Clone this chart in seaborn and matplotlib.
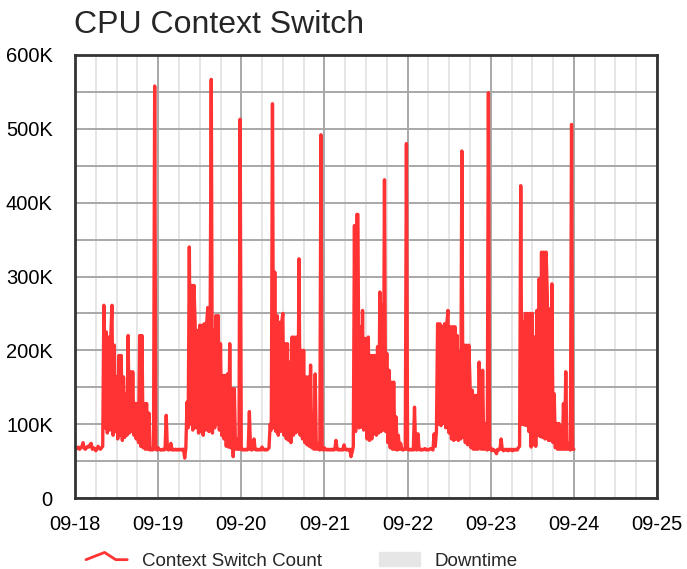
import numpy as np
import pandas as pd
import matplotlib
matplotlib.use("Agg")
import matplotlib.pyplot as plt
import matplotlib.dates as mdates
from matplotlib.ticker import FuncFormatter, MultipleLocator
from matplotlib.lines import Line2D
from matplotlib.patches import Patch
from matplotlib.legend_handler import HandlerLine2D
import seaborn as sns

# context switches (thousands), 20-minute samples, one list per day
day_0918 = [70, 68, 67, 69, 66, 68, 70, 75, 67, 66, 68, 70, 69, 72, 74, 66, 68, 67, 64, 66, 70, 68, 66, 68,
            70, 261, 95, 225, 88, 218, 92, 218, 261, 85, 207, 90, 164, 80, 193, 85, 193, 78, 164, 82, 141, 85, 220, 88,
            171, 90, 171, 85, 128, 80, 128, 75, 220, 70, 220, 68, 128, 66, 128, 66, 115, 65, 66, 65, 66, 558, 66, 65]
day_0919 = [68, 66, 65, 65, 66, 65, 66, 112, 66, 65, 66, 74, 65, 66, 65, 66, 65, 66, 65, 66, 65, 66, 66, 54,
            68, 130, 95, 340, 100, 288, 92, 288, 238, 95, 227, 88, 234, 90, 234, 85, 236, 92, 236, 258, 90, 227, 567, 88,
            227, 95, 247, 100, 247, 92, 209, 85, 166, 80, 166, 70, 168, 69, 209, 68, 148, 56, 148, 66, 80, 66, 66, 513]
day_0920 = [66, 65, 66, 65, 66, 65, 66, 117, 66, 65, 66, 80, 66, 65, 66, 65, 66, 65, 69, 66, 65, 66, 65, 66,
            68, 100, 92, 534, 95, 306, 90, 247, 85, 238, 90, 238, 250, 85, 209, 80, 209, 78, 184, 75, 218, 85, 218, 88,
            218, 90, 324, 85, 200, 80, 200, 75, 164, 72, 164, 70, 180, 68, 110, 66, 168, 66, 74, 66, 65, 492, 66, 65]
day_0921 = [68, 66, 65, 66, 65, 66, 65, 66, 65, 66, 78, 66, 65, 66, 65, 66, 65, 72, 66, 65, 66, 65, 66, 56,
            62, 70, 369, 90, 384, 384, 95, 232, 96, 254, 92, 216, 216, 80, 218, 78, 193, 80, 193, 87, 193, 85, 205, 88,
            279, 90, 261, 92, 431, 90, 196, 75, 173, 68, 157, 66, 157, 66, 110, 65, 85, 66, 74, 66, 65, 66, 66, 480]
day_0922 = [66, 65, 66, 65, 66, 65, 123, 66, 65, 87, 66, 65, 66, 65, 66, 67, 65, 66, 65, 66, 67, 66, 65, 87,
            70, 90, 236, 100, 236, 98, 232, 101, 236, 95, 236, 254, 88, 232, 80, 232, 78, 232, 80, 220, 78, 198, 80, 470,
            82, 207, 75, 207, 72, 207, 160, 68, 146, 66, 139, 66, 139, 66, 184, 103, 66, 173, 66, 101, 66, 65, 549, 66]
day_0923 = [68, 64, 66, 65, 63, 60, 66, 65, 66, 80, 66, 64, 66, 65, 66, 64, 66, 65, 66, 64, 66, 65, 66, 65,
            68, 70, 423, 100, 238, 99, 250, 98, 250, 90, 250, 69, 250, 72, 218, 70, 254, 85, 297, 83, 333, 82, 333, 80,
            333, 274, 78, 256, 78, 290, 75, 141, 68, 101, 66, 101, 66, 96, 66, 128, 66, 171, 66, 74, 66, 65, 506, 66]
last_value = [66]

values = day_0918 + day_0919 + day_0920 + day_0921 + day_0922 + day_0923 + last_value
times = pd.date_range("2023-09-18 00:00", periods=len(values), freq="20min")
df = pd.DataFrame({"time": times, "count": np.array(values) * 1000})

sns.set_style("white")
plt.rcParams["font.family"] = ["Liberation Sans", "DejaVu Sans"]

fig = plt.figure(figsize=(6.87, 5.69), dpi=100)
ax = fig.add_axes([75 / 687, 71 / 569, 582 / 687, 443 / 569])

sns.lineplot(data=df, x="time", y="count", color="#ff3333", linewidth=2.4, ax=ax, legend=False)

ax.set_xlim(pd.Timestamp("2023-09-18"), pd.Timestamp("2023-09-25"))
ax.set_ylim(0, 600000)

ax.xaxis.set_major_locator(mdates.DayLocator())
ax.xaxis.set_major_formatter(mdates.DateFormatter("%m-%d"))
ax.xaxis.set_minor_locator(mdates.HourLocator(byhour=[6, 12, 18]))
ax.yaxis.set_major_locator(MultipleLocator(100000))
ax.yaxis.set_minor_locator(MultipleLocator(50000))
ax.yaxis.set_major_formatter(FuncFormatter(lambda v, p: "0" if v == 0 else "%dK" % (v / 1000)))

ax.grid(False)
ax.grid(axis="y", which="both", color="#a8a8a8", linewidth=1.4)
ax.grid(axis="x", which="major", color="#a8a8a8", linewidth=1.4)
ax.grid(axis="x", which="minor", color="#e6e6e6", linewidth=1.4)
ax.set_axisbelow(True)

for s in ax.spines.values():
    s.set_color("#333333")
    s.set_linewidth(2)

ax.tick_params(axis="both", which="major", length=8, width=2, color="#111111",
               labelsize=14.5, labelcolor="black")
ax.tick_params(axis="y", which="major", pad=8)
ax.tick_params(axis="x", which="major", pad=4)
ax.tick_params(axis="both", which="minor", length=0)
ax.set_xlabel("")
ax.set_ylabel("")

ax.set_title("CPU Context Switch", loc="left", fontsize=23, pad=16, x=-0.002)


class BumpHandler(HandlerLine2D):
    def create_artists(self, legend, orig_handle, xdescent, ydescent, width, height, fontsize, trans):
        xs = np.array([0, 0.45, 0.72, 1.0]) * width - xdescent
        ys = np.array([0.45, 1.0, 0.45, 0.45]) * height - ydescent
        ln = Line2D(xs, ys, color=orig_handle.get_color(), linewidth=2, transform=trans)
        return [ln]


handles = [Line2D([], [], color="#ff3333", linewidth=2), Patch(color="#e6e6e6")]
labels = ["Context Switch Count", "Downtime"]
fig.legend(handles, labels, loc="center left", bbox_to_anchor=(86 / 687, 8 / 569),
           ncol=2, frameon=False, fontsize=13.5, borderpad=0, borderaxespad=0,
           handlelength=2.2, handletextpad=0.8, columnspacing=3.0,
           handler_map={handles[0]: BumpHandler()})

fig.savefig("out.png", dpi=100)
